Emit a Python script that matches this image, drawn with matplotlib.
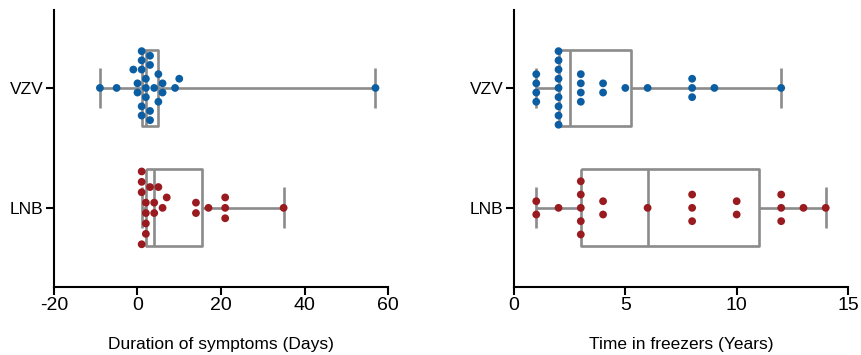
import numpy as np
import matplotlib
matplotlib.use("Agg")
import matplotlib.pyplot as plt

plt.rcParams['font.family'] = ['Liberation Sans', 'DejaVu Sans']

# ---------------- data ----------------
groups = ["VZV", "LNB"]
duration_vzv = [-9, -5, -1, 0, 0, 1, 1, 1, 1, 1, 2, 2, 2, 3, 3, 3, 3, 4, 5, 5, 6, 6, 9, 10, 57]
duration_lnb = [1, 1, 1, 1, 2, 2, 2, 2, 3, 4, 4, 5, 6, 7, 14, 14, 17, 21, 21, 21, 35]
freezer_vzv = [1, 1, 1, 1, 2, 2, 2, 2, 2, 2, 2, 2, 2, 3, 3, 3, 3, 4, 4, 5, 6, 8, 8, 8, 9, 12]
freezer_lnb = [1, 1, 2, 3, 3, 3, 3, 3, 4, 4, 6, 8, 8, 8, 10, 10, 12, 12, 12, 13, 14]

left_xticks = [-20, 0, 20, 40, 60]
right_xticks = [0, 5, 10, 15]
left_xlabel = "Duration of symptoms (Days)"
right_xlabel = "Time in freezers (Years)"

# ---------------- style ----------------
W, H = 862, 355
DPI = 100
box_color = "#8b8b8b"
dot_colors = ["#0c5ea3", "#991b1f"]
box_lw = 1.9
dot_diam_px = 7.8
ylim = (1.66, -0.65)


def swarm(vals, px_per_x, step_px, diam_px=8.0):
    vals = np.asarray(vals, float)
    med = np.median(vals)
    uniq, counts = np.unique(vals, return_counts=True)
    order = sorted(range(len(uniq)), key=lambda i: (abs(uniq[i] - med), uniq[i]))
    placed = []
    xs, ys = [], []
    for i in order:
        v, n = uniq[i], counts[i]
        shift = 0.0 if n % 2 else 0.5
        cands = sorted([k + shift for k in range(-30, 30)], key=lambda o: (abs(o), o))
        xp = v * px_per_x
        chosen = []
        for o in cands:
            yp = o * step_px
            if all(np.hypot(xp - a, yp - b) >= diam_px - 1e-6 for a, b in placed):
                chosen.append(yp)
                if len(chosen) == n:
                    break
        for yp in chosen:
            placed.append((xp, yp))
            xs.append(v)
            ys.append(yp)
    return np.array(xs), np.array(ys)


def panel(ax, datasets, xlim, xticks, xlabel, steps):
    ax.set_xlim(*xlim)
    ax.set_ylim(*ylim)
    bbox = ax.get_position()
    ax_w_px = bbox.width * W
    ax_h_px = bbox.height * H
    px_per_x = ax_w_px / (xlim[1] - xlim[0])
    px_per_y = ax_h_px / abs(ylim[0] - ylim[1])

    stats = []
    for d in datasets:
        q1, med, q3 = np.percentile(d, [25, 50, 75], method="weibull")
        stats.append(dict(med=med, q1=q1, q3=q3, whislo=min(d), whishi=max(d), fliers=[]))
    lp = dict(color=box_color, linewidth=box_lw, solid_capstyle="butt")
    ax.bxp(stats, positions=[0, 1], widths=0.64, capwidths=0.34,
           orientation="horizontal", showfliers=False,
           boxprops=lp, medianprops=lp, whiskerprops=lp, capprops=lp,
           manage_ticks=False, zorder=2)

    for gi, d in enumerate(datasets):
        xs, ys = swarm(d, px_per_x, steps[gi])
        ax.scatter(xs, gi + ys / px_per_y, s=(dot_diam_px * 72 / DPI) ** 2,
                   color=dot_colors[gi], edgecolors="none", zorder=3)

    ax.set_yticks([0, 1])
    ax.set_yticklabels(groups, fontsize=12.5)
    ax.set_xticks(xticks)
    ax.set_xticklabels([str(t) for t in xticks], fontsize=14)
    ax.set_xlabel(xlabel, fontsize=12.5, labelpad=16)
    for s in ["top", "right"]:
        ax.spines[s].set_visible(False)
    for s in ["left", "bottom"]:
        ax.spines[s].set_linewidth(1.5)
        ax.spines[s].set_color("black")
    ax.tick_params(axis="both", length=6, width=1.5, color="black", pad=1.5)


fig = plt.figure(figsize=(W / DPI, H / DPI), dpi=DPI)
ax1 = fig.add_axes([54 / W, (H - 287) / H, 334 / W, 277 / H])
ax2 = fig.add_axes([514 / W, (H - 287) / H, 334 / W, 277 / H])

panel(ax1, [duration_vzv, duration_lnb], (-20, 60), left_xticks, left_xlabel, [9.2, 10.4])
panel(ax2, [freezer_vzv, freezer_lnb], (0, 15), right_xticks, right_xlabel, [9.2, 13.3])

fig.savefig("out.png", dpi=DPI)
